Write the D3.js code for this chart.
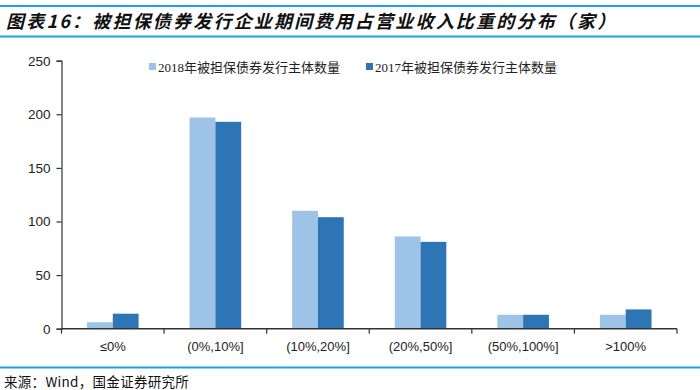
<!DOCTYPE html>
<html><head><meta charset="utf-8">
<script src="https://cdn.jsdelivr.net/npm/d3@7"></script>
<style>
body{margin:0;background:#fff;}
svg{display:block;}
</style></head>
<body>
<svg id="c" width="700" height="390"></svg>
<script>
const categories = ["≤0%", "(0%,10%]", "(10%,20%]", "(20%,50%]", "(50%,100%]", ">100%"];
const seriesNames = ["2018年被担保债券发行主体数量", "2017年被担保债券发行主体数量"];
const values2018 = [6, 197, 110, 86, 13, 13];
const values2017 = [14, 193, 104, 81, 13, 18];
const yTicks = [0, 50, 100, 150, 200, 250];
const titleText = "图表16：被担保债券发行企业期间费用占营业收入比重的分布（家）";
const sourceText = "来源：Wind，国金证券研究所";
const colors = ["#9DC3E6", "#2E75B6"];

(function () {
const svg = d3.select("#c");
const lineColor = "#1DA1E6";

// header
svg.append("rect").attr("x", 0).attr("y", 5).attr("width", 700).attr("height", 2).attr("fill", lineColor);
svg.append("rect").attr("x", 0).attr("y", 35.5).attr("width", 700).attr("height", 2).attr("fill", lineColor);
svg.append("text").attr("x", 6).attr("y", 27.5)
  .attr("font-family", "'Noto Sans CJK SC', sans-serif").attr("font-size", 18).attr("font-weight", "bold")
  .attr("font-style", "italic").attr("letter-spacing", 2.2).attr("fill", "#111").text(titleText);

// footer
svg.append("rect").attr("x", 0).attr("y", 366.5).attr("width", 700).attr("height", 2).attr("fill", lineColor);
svg.append("text").attr("x", 4).attr("y", 386.5)
  .attr("font-family", "'Noto Sans CJK SC', sans-serif").attr("font-size", 13.5).attr("letter-spacing", 0.3)
  .attr("fill", "#111").text(sourceText);

const pl = 61.5, pr = 677, pt = 60.7, pb = 328.7;
const x = d3.scaleBand().domain(categories).range([pl, pr]).paddingInner(0).paddingOuter(0);
const y = d3.scaleLinear().domain([0, 250]).range([pb, pt]);
const barW = 25.8;

const g = svg.append("g");
const data = categories.map((c, i) => ({c, v: [values2018[i], values2017[i]]}));
data.forEach(d => {
  d.v.forEach((v, s) => {
    const cx = x(d.c) + x.bandwidth() / 2;
    g.append("rect")
      .attr("x", cx - barW + s * barW).attr("width", barW)
      .attr("y", y(v)).attr("height", y(0) - y(v))
      .attr("fill", colors[s]);
  });
});

// y axis
const yAxis = svg.append("g").attr("transform", `translate(${pl},0)`)
  .call(d3.axisLeft(y).tickValues(yTicks).tickSize(5).tickPadding(6));
yAxis.select(".domain").attr("stroke", "#333").attr("stroke-width", 1.2);
yAxis.selectAll(".tick line").attr("stroke", "#333").attr("stroke-width", 1.2);
yAxis.selectAll("text").attr("font-family", "'Liberation Sans', Arial, sans-serif").attr("font-size", 13.5).attr("fill", "#222");

// x axis
const bounds = d3.range(categories.length + 1).map(i => pl + i * x.bandwidth());
const xAxisG = svg.append("g");
xAxisG.append("line").attr("x1", pl).attr("x2", pr).attr("y1", pb).attr("y2", pb)
  .attr("stroke", "#333").attr("stroke-width", 1.4);
xAxisG.selectAll("line.t").data(bounds).enter().append("line").attr("class", "t")
  .attr("x1", d => d).attr("x2", d => d).attr("y1", pb).attr("y2", pb + 5)
  .attr("stroke", "#333").attr("stroke-width", 1.2);
xAxisG.selectAll("text").data(categories).enter().append("text")
  .attr("x", d => x(d) + x.bandwidth() / 2).attr("y", 351)
  .attr("text-anchor", "middle")
  .attr("font-family", "'Liberation Sans', Arial, sans-serif").attr("font-size", 13).attr("fill", "#222")
  .text(d => d);

// legend
const legendX = [149, 366];
seriesNames.forEach((n, i) => {
  svg.append("rect").attr("x", legendX[i]).attr("y", 63).attr("width", 7).attr("height", 7).attr("fill", colors[i]);
  svg.append("text").attr("x", legendX[i] + 9).attr("y", 71.5)
    .attr("font-family", "'Liberation Serif', 'Noto Sans CJK SC', serif").attr("font-size", 13)
    .attr("fill", "#222").text(n);
});
})();
</script>
</body></html>
